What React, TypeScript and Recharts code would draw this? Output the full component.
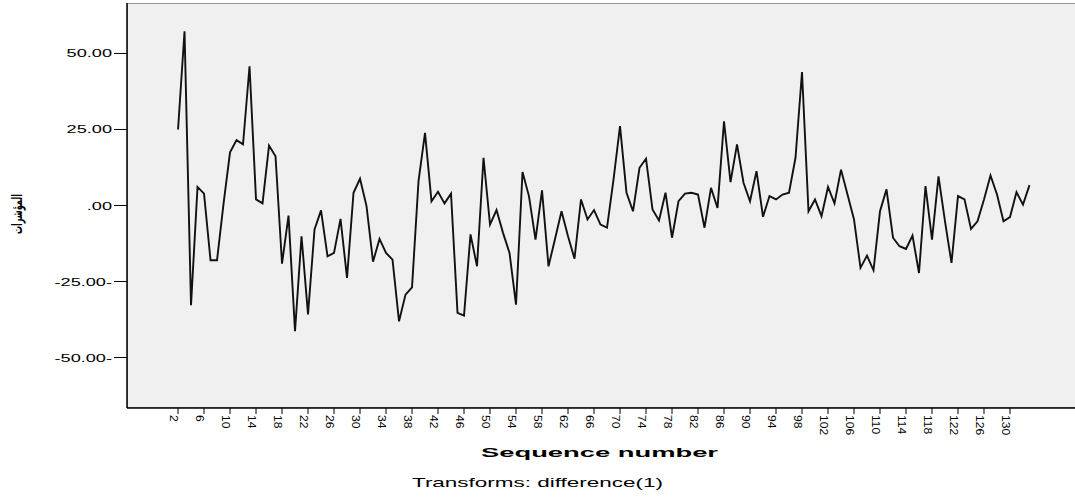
import React from "react";
import { LineChart, Line, XAxis, YAxis, ReferenceArea } from "recharts";

// first-difference values, sequence numbers 2..133
const firstSequence = 2;
const diffValues = [
  25.0, 57.3, -32.8, 6.1, 3.9, -18.0, -18.0, 0.5, 17.5, 21.5,
  20.1, 45.8, 2.0, 0.7, 19.7, 16.2, -19.1, -3.3, -41.3, -10.1,
  -35.8, -7.9, -1.6, -16.7, -15.6, -4.4, -23.8, 4.2, 8.8, -0.2,
  -18.5, -11.0, -15.6, -17.8, -38.1, -29.3, -26.9, 8.0, 23.9, 1.4,
  4.5, 0.7, 3.9, -35.3, -36.2, -9.5, -20.0, 15.7, -6.3, -1.5,
  -9.0, -15.6, -32.6, 11.0, 3.0, -11.2, 5.0, -20.0, -11.0, -1.9,
  -10.1, -17.5, 2.0, -4.6, -1.5, -6.3, -7.3, 8.5, 26.1, 4.2,
  -1.9, 12.4, 15.4, -1.3, -4.9, 4.2, -10.6, 1.4, 3.9, 4.2,
  3.6, -7.3, 5.8, -0.8, 27.7, 7.7, 20.1, 7.5, 1.4, 11.3,
  -3.7, 3.1, 2.0, 3.6, 4.2, 15.7, 43.9, -1.9, 2.0, -3.5,
  6.1, 0.7, 11.8, 3.6, -4.6, -20.5, -16.5, -21.3, -1.9, 5.3,
  -10.6, -13.4, -14.3, -9.9, -22.2, 6.4, -11.2, 9.6, -5.2, -18.9,
  3.1, 2.0, -7.7, -5.2, 2.0, 9.9, 3.6, -5.2, -3.8, 4.4,
  0.3, 6.7,
];

const xTicks = [
  2, 6, 10, 14, 18, 22, 26, 30, 34, 38, 42, 46, 50, 54, 58, 62, 66,
  70, 74, 78, 82, 86, 90, 94, 98, 102, 106, 110, 114, 118, 122, 126, 130,
];
const yTicks = [-50, -25, 0, 25, 50];
const yTickLabels = ["-50.00-", "-25.00-", ".00", "25.00", "50.00"];

const xDomain = [-5.85, 140.77];
const yDomain = [-66.6, 66.6];

const data = diffValues.map((v, i) => ({ seq: firstSequence + i, value: v }));

const FONT = "'Liberation Sans', Arial, sans-serif";

function YTick({ x, y, payload }: any) {
  const idx = yTicks.indexOf(payload.value);
  return (
    <text
      transform={`translate(${x},${y + 4}) scale(1.65,1)`}
      textAnchor="end"
      fontSize={11}
      fontFamily={FONT}
      fill="#000"
    >
      {yTickLabels[idx]}
    </text>
  );
}

function XTick({ x, y, payload }: any) {
  return (
    <text
      transform={`translate(${x - 8},${y + 1}) rotate(90) scale(1.1,1)`}
      textAnchor="start"
      fontSize={11}
      fontFamily={FONT}
      fill="#000"
    >
      {payload.value}
    </text>
  );
}

export default function App() {
  return (
    <div
      style={{
        position: "absolute",
        left: 0,
        top: 0,
        width: 1075,
        height: 497,
        overflow: "hidden",
        background: "#fff",
      }}
    >
      <LineChart
        width={1100}
        height={497}
        data={data}
        margin={{ top: 3, right: 20, left: 0, bottom: 0 }}
      >
        <ReferenceArea
          x1={xDomain[0]}
          x2={xDomain[1]}
          y1={yDomain[0]}
          y2={yDomain[1]}
          fill="#f0f0f0"
          fillOpacity={1}
          stroke="#7a7a7a"
          strokeWidth={1.5}
          ifOverflow="hidden"
        />
        <XAxis
          dataKey="seq"
          type="number"
          domain={xDomain}
          allowDataOverflow
          ticks={xTicks}
          interval={0}
          height={89}
          tickSize={6}
          tickMargin={0}
          tick={<XTick />}
          axisLine={{ stroke: "#000", strokeWidth: 1.5 }}
          tickLine={{ stroke: "#000" }}
        />
        <YAxis
          type="number"
          domain={yDomain}
          allowDataOverflow
          ticks={yTicks}
          interval={0}
          width={127}
          tickSize={13}
          tickMargin={2}
          tick={<YTick />}
          axisLine={{ stroke: "#000", strokeWidth: 1.5 }}
          tickLine={{ stroke: "#000" }}
        />
        <Line
          type="linear"
          dataKey="value"
          stroke="#111"
          strokeWidth={1.9}
          dot={false}
          isAnimationActive={false}
        />
      </LineChart>
      <svg
        width={1075}
        height={497}
        style={{ position: "absolute", left: 0, top: 0, pointerEvents: "none" }}
      >
        <text
          transform="translate(22,214) rotate(-90)"
          textAnchor="middle"
          fontSize={14}
          fontWeight="bold"
          fontFamily="'DejaVu Sans', sans-serif"
          textLength={40}
          lengthAdjust="spacingAndGlyphs"
          fill="#000"
        >
          المؤشرات
        </text>
        <text
          x={599.5}
          y={457}
          textAnchor="middle"
          fontSize={13}
          fontWeight="bold"
          fontFamily={FONT}
          textLength={237}
          lengthAdjust="spacingAndGlyphs"
          fill="#000"
        >
          Sequence number
        </text>
        <text
          x={412}
          y={487}
          textAnchor="start"
          fontSize={13}
          fontFamily={FONT}
          textLength={251}
          lengthAdjust="spacingAndGlyphs"
          fill="#000"
        >
          Transforms: difference(1)
        </text>
      </svg>
    </div>
  );
}
